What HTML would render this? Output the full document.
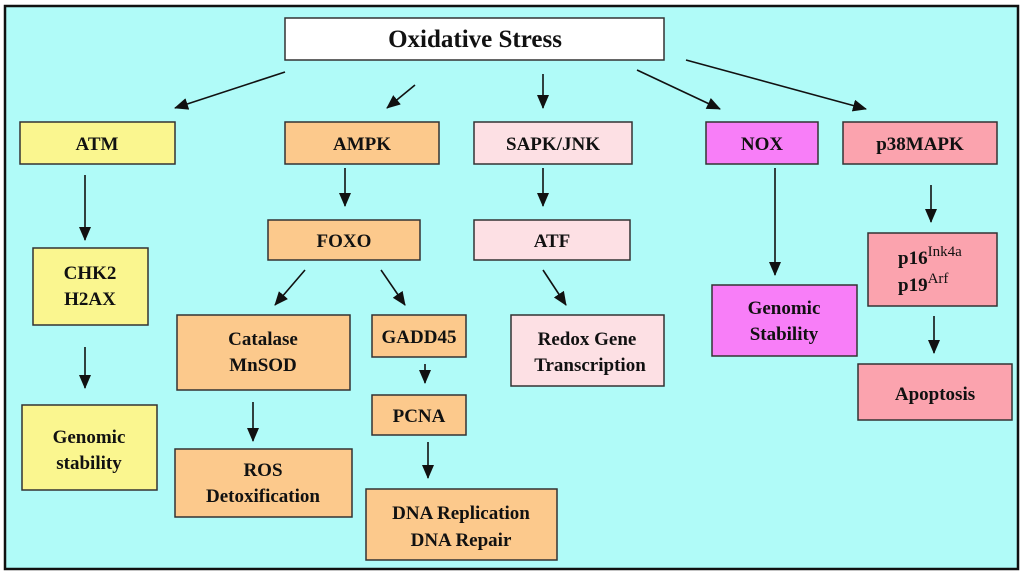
<!DOCTYPE html>
<html><head><style>
html,body{margin:0;padding:0;background:#fff;}
svg{display:block}
text{font-family:"Liberation Serif",serif;font-weight:bold;font-size:19px;fill:#111;text-anchor:middle}
.b{stroke:#333;stroke-width:1.5}
.a{stroke:#111;stroke-width:1.6;marker-end:url(#ah)}
</style></head><body>
<svg width="1024" height="575" viewBox="0 0 1024 575">
<defs><marker id="ah" markerWidth="14" markerHeight="12" refX="13" refY="6" orient="auto" markerUnits="userSpaceOnUse"><path d="M0,0 L14,6 L0,12 z" fill="#111"/></marker></defs>
<rect x="5" y="6" width="1013" height="563" fill="#b0fbf8" stroke="#111" stroke-width="2.5"/>
<rect class="b" x="285" y="18" width="379" height="42" fill="#fff"/>
<text x="475" y="47" style="font-size:25px">Oxidative Stress</text>

<rect class="b" x="20" y="122" width="155" height="42" fill="#faf68f"/><text x="97" y="150">ATM</text>
<rect class="b" x="285" y="122" width="154" height="42" fill="#fcc98c"/><text x="362" y="150">AMPK</text>
<rect class="b" x="474" y="122" width="158" height="42" fill="#fde0e4"/><text x="553" y="150">SAPK/JNK</text>
<rect class="b" x="706" y="122" width="112" height="42" fill="#f87ef8"/><text x="762" y="150">NOX</text>
<rect class="b" x="843" y="122" width="154" height="42" fill="#fba3ae"/><text x="920" y="150">p38MAPK</text>

<rect class="b" x="33" y="248" width="115" height="77" fill="#faf68f"/><text x="90" y="279">CHK2</text><text x="90" y="305">H2AX</text>
<rect class="b" x="268" y="220" width="152" height="40" fill="#fcc98c"/><text x="344" y="247">FOXO</text>
<rect class="b" x="474" y="220" width="156" height="40" fill="#fde0e4"/><text x="552" y="247">ATF</text>
<rect class="b" x="868" y="233" width="129" height="73" fill="#fba3ae"/>
<text x="898" y="264" style="text-anchor:start">p16<tspan dy="-8" style="font-size:15px;font-weight:normal">Ink4a</tspan></text>
<text x="898" y="291" style="text-anchor:start">p19<tspan dy="-8" style="font-size:15px;font-weight:normal">Arf</tspan></text>

<rect class="b" x="177" y="315" width="173" height="75" fill="#fcc98c"/><text x="263" y="345">Catalase</text><text x="263" y="371">MnSOD</text>
<rect class="b" x="372" y="315" width="94" height="42" fill="#fcc98c"/><text x="419" y="343">GADD45</text>
<rect class="b" x="511" y="315" width="153" height="71" fill="#fde0e4"/><text x="587" y="345">Redox Gene</text><text x="590" y="371">Transcription</text>
<rect class="b" x="712" y="285" width="145" height="71" fill="#f87ef8"/><text x="784" y="314">Genomic</text><text x="784" y="340">Stability</text>
<rect class="b" x="22" y="405" width="135" height="85" fill="#faf68f"/><text x="89" y="443">Genomic</text><text x="89" y="469">stability</text>
<rect class="b" x="372" y="395" width="94" height="40" fill="#fcc98c"/><text x="419" y="422">PCNA</text>
<rect class="b" x="175" y="449" width="177" height="68" fill="#fcc98c"/><text x="263" y="476">ROS</text><text x="263" y="502">Detoxification</text>
<rect class="b" x="366" y="489" width="191" height="71" fill="#fcc98c"/><text x="461" y="519">DNA Replication</text><text x="461" y="546">DNA Repair</text>
<rect class="b" x="858" y="364" width="154" height="56" fill="#fba3ae"/><text x="935" y="400">Apoptosis</text>

<line class="a" x1="285" y1="72" x2="175" y2="108"/>
<line class="a" x1="415" y1="85" x2="387" y2="108"/>
<line class="a" x1="543" y1="74" x2="543" y2="108"/>
<line class="a" x1="637" y1="70" x2="720" y2="109"/>
<line class="a" x1="686" y1="60" x2="866" y2="109"/>
<line class="a" x1="85" y1="175" x2="85" y2="240"/>
<line class="a" x1="85" y1="347" x2="85" y2="388"/>
<line class="a" x1="345" y1="168" x2="345" y2="206"/>
<line class="a" x1="305" y1="270" x2="275" y2="305"/>
<line class="a" x1="381" y1="270" x2="405" y2="305"/>
<line class="a" x1="425" y1="364" x2="425" y2="383"/>
<line class="a" x1="428" y1="442" x2="428" y2="478"/>
<line class="a" x1="253" y1="402" x2="253" y2="441"/>
<line class="a" x1="543" y1="168" x2="543" y2="206"/>
<line class="a" x1="543" y1="270" x2="566" y2="305"/>
<line class="a" x1="775" y1="168" x2="775" y2="275"/>
<line class="a" x1="931" y1="185" x2="931" y2="222"/>
<line class="a" x1="934" y1="316" x2="934" y2="353"/>
</svg>
</body></html>
